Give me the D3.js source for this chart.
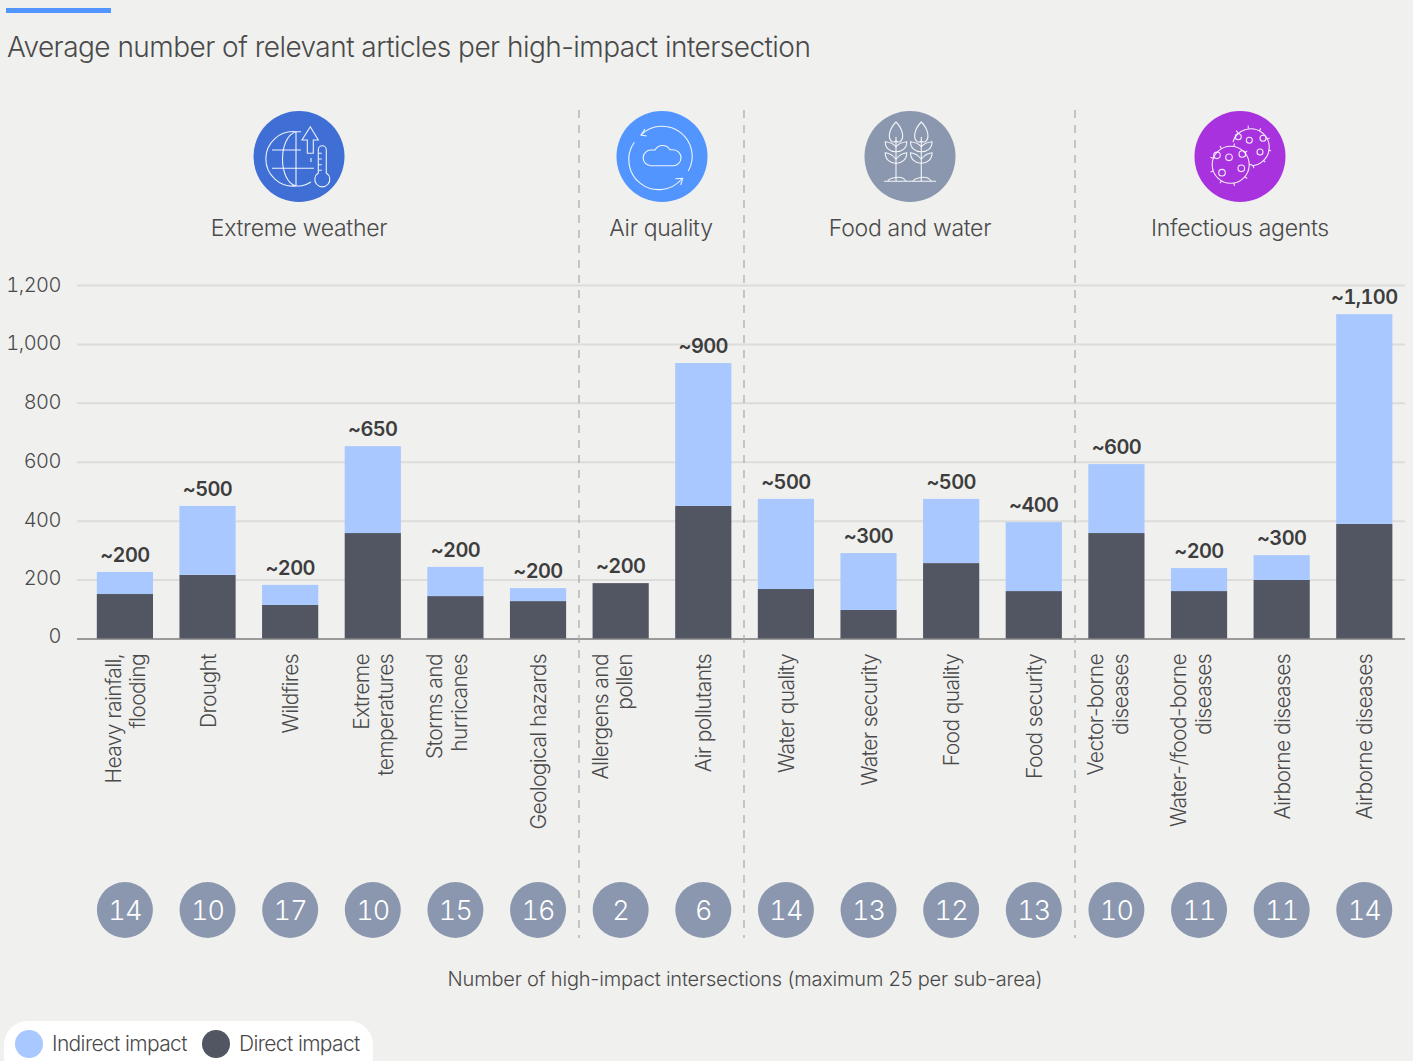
<!DOCTYPE html>
<html>
<head>
<meta charset="utf-8">
<script src="https://cdn.jsdelivr.net/npm/d3@7"></script>
<style>
  html, body { margin: 0; padding: 0; background: #f0f0ef; }
  svg { display: block; }
  text { font-family: "Inter", "Liberation Sans", sans-serif; font-weight: 300; fill: #4a4a4a; letter-spacing: -0.03em; }
  .num { font-variant-numeric: tabular-nums; }
  .icon * { fill: none; stroke: #fff; stroke-width: 1.1; stroke-opacity: .9; }
</style>
</head>
<body>
<svg id="chart" width="1413" height="1061"></svg>
<script>
// Categories and values
const subAreas = [
  ["Heavy rainfall,", "flooding"], ["Drought"], ["Wildfires"], ["Extreme", "temperatures"],
  ["Storms and", "hurricanes"], ["Geological hazards"], ["Allergens and", "pollen"], ["Air pollutants"],
  ["Water quality"], ["Water security"], ["Food quality"], ["Food security"],
  ["Vector-borne", "diseases"], ["Water-/food-borne", "diseases"], ["Airborne diseases"], ["Airborne diseases"]
];
const directImpact   = [151, 216, 114, 358, 144, 127, 188, 450, 168, 97, 256, 161, 358, 161, 199, 389];
const indirectImpact = [75, 234, 68, 295, 99, 44, 0, 485, 306, 193, 218, 234, 234, 78, 84, 712];
const totalLabels = ["~200", "~500", "~200", "~650", "~200", "~200", "~200", "~900",
                     "~500", "~300", "~500", "~400", "~600", "~200", "~300", "~1,100"];
const intersections = [14, 10, 17, 10, 15, 16, 2, 6, 14, 13, 12, 13, 10, 11, 11, 14];
const yTicks = [0, 200, 400, 600, 800, 1000, 1200];
const groups = [
  { name: "Extreme weather", labelX: 299, iconX: 299, color: "#3f6fd4", icon: "weather" },
  { name: "Air quality", labelX: 661, iconX: 662, color: "#5295ff", icon: "air" },
  { name: "Food and water", labelX: 910, iconX: 910, color: "#8a97ae", icon: "food" },
  { name: "Infectious agents", labelX: 1240, iconX: 1240, color: "#a832dd", icon: "germs" }
];
const dividerX = [579, 744, 1075];
// Two-line labels that sit further left of their bar
const leftSetLabels = new Set([4, 6, 12, 13]);

const COLOR_DIRECT = "#525662", COLOR_INDIRECT = "#a9c8ff", COLOR_BADGE = "#8a97ae";

const svg = d3.select("#chart");
const x = d3.scaleBand().domain(d3.range(subAreas.length)).range([83.6, 1405.6])
  .paddingInner(0.32).paddingOuter(0.16);
const y = d3.scaleLinear().domain([0, 1200]).range([638.5, 285]);

// Accent rule and heading
svg.append("rect").attr("x", 6).attr("y", 8).attr("width", 105).attr("height", 5).attr("fill", "#5295ff");
svg.append("text").attr("x", 7).attr("y", 57).attr("font-size", 28).style("letter-spacing", "-0.53px")
  .text("Average number of relevant articles per high-impact intersection");

// Gridlines and value axis
const axis = svg.append("g").attr("transform", "translate(77,0)")
  .call(d3.axisLeft(y).tickValues(yTicks).tickFormat(d3.format(",")).tickSize(0).tickPadding(16));
axis.select(".domain").remove();
axis.selectAll("text").attr("class", "num").attr("font-size", 20).style("letter-spacing", "-0.5px")
  .attr("dy", d => d === 0 ? "0.2em" : d === 1200 ? "0.32em" : "0.27em");
axis.selectAll(".tick").append("line").attr("x1", 0).attr("x2", 1328)
  .attr("stroke", d => d === 0 ? "#9a9a9a" : "#dcdcda").attr("stroke-width", 2);

// Dashed dividers between the groups
svg.append("g").selectAll("line").data(dividerX).join("line")
  .attr("x1", d => d).attr("x2", d => d).attr("y1", 110).attr("y2", 938)
  .attr("stroke", "#a8a8a8").attr("stroke-width", 1.2).attr("stroke-dasharray", "8 7");

// Stacked bars
const bars = svg.append("g");
bars.selectAll(".direct").data(directImpact).join("rect").attr("class", "direct")
  .attr("x", (d, i) => x(i)).attr("width", x.bandwidth())
  .attr("y", d => y(d)).attr("height", d => y(0) - y(d)).attr("fill", COLOR_DIRECT);
bars.selectAll(".indirect").data(indirectImpact).join("rect").attr("class", "indirect")
  .attr("x", (d, i) => x(i)).attr("width", x.bandwidth())
  .attr("y", (d, i) => y(d + directImpact[i])).attr("height", d => y(0) - y(d)).attr("fill", COLOR_INDIRECT);

// Approximate totals above each bar
svg.append("g").selectAll("text").data(totalLabels).join("text").attr("class", "num")
  .attr("x", (d, i) => x(i) + x.bandwidth() / 2)
  .attr("y", (d, i) => y(directImpact[i] + indirectImpact[i]) - 10)
  .attr("text-anchor", "middle").attr("font-size", 20)
  .style("font-weight", 600).style("fill", "#3d3d3d").text(d => d);

// Rotated category labels, right-aligned towards the axis
const catGroups = svg.append("g").selectAll("g").data(subAreas).join("g")
  .attr("transform", (d, i) => `translate(${x(i) + x.bandwidth() / 2 - (leftSetLabels.has(i) ? 9 : 0)},654)`);
catGroups.selectAll("text").data(d => d.map((t, k) => ({ t, k, n: d.length }))).join("text")
  .attr("transform", d => `translate(${d.n === 1 ? 8 : (d.k === 0 ? -4 : 20.5)},0) rotate(-90)`)
  .attr("text-anchor", "end").attr("font-size", 21).text(d => d.t);

// Intersection-count badges
const badges = svg.append("g").selectAll("g").data(intersections).join("g")
  .attr("transform", (d, i) => `translate(${x(i) + x.bandwidth() / 2},910)`);
badges.append("circle").attr("r", 28).attr("fill", COLOR_BADGE);
badges.append("text").attr("class", "num").attr("text-anchor", "middle").attr("y", 10).attr("font-size", 27)
  .style("fill", "#fff").text(d => d);
svg.append("text").attr("x", 745).attr("y", 986).attr("text-anchor", "middle").attr("font-size", 20)
  .style("letter-spacing", "-0.2px")
  .text("Number of high-impact intersections (maximum 25 per sub-area)");

// Group headers with pictograms
const iconDrawers = {
  weather(g) {
    g.append("path").attr("d", "M2,-25.3 H-3 A27.3,27.3 0 1 0 -3,29 M-3,-25.3 C-21,-20 -21,24 -3,29 M-3,-25.3 V29 H2 A27.3,27.3 0 0 0 12,25");
    g.append("path").attr("d", "M-27,-7 H2 M-27,11.3 H15 M12,5 V1");
    g.append("path").attr("d", "M11.3,-30.3 L3,-17 H8.3 V-3.7 H14.3 V-17 H19.3 Z");
    g.append("path").attr("d", "M19.3,16 V-7.3 a4,4 0 0 1 8,0 V16 a7.5,7.5 0 1 1 -8,0 Z M19.3,-3.7 h3.5 M19.3,2 h3.5 M19.3,7.7 h3.5 M19.3,13.3 h3.5");
  },
  air(g) {
    g.append("path").attr("d", "M26.3,14 A30,30 0 0 0 -21,-22 M-27.7,-14.7 A30,30 0 0 0 19.7,22");
    g.append("path").attr("d", "M-17,-28 L-21,-22 L-15.3,-21 M13.3,21.7 L20.7,21.3 L18.7,28");
    g.append("path").attr("d", "M-11,8.7 H11 A8,8 0 0 0 11,-7.3 L8,-7.3 A8.7,8.7 0 0 0 -7,-7 L-11,-7 A7.8,7.8 0 0 0 -11,8.7 Z");
  },
  food(g) {
    g.append("path").attr("d", "M-26,24.3 H26");
    [-14, 11.3].forEach(c => {
      const p = g.append("g").attr("transform", `translate(${c},0)`);
      p.append("path").attr("d", "M0,24.3 V-20");
      p.append("path").attr("d", "M0,-35 C-8,-27 -8,-18 -4,-15.3 C-2,-14.5 -1,-15 0,-16 C1,-15 2,-14.5 4,-15.3 C8,-18 8,-27 0,-35 Z");
      p.append("path").attr("d", "M0,-10.3 C-3,-14 -8,-15 -10.7,-15.3 C-11,-9 -6,-5 0,-5.3 C6,-5 11,-9 10.7,-15.3 C8,-15 3,-14 0,-10.3");
      p.append("path").attr("d", "M0,2.3 C-3,-2 -8,-4 -10.7,-4.3 C-11,2 -6,6.5 0,6.3 C6,6.5 11,2 10.7,-4.3 C8,-4 3,-2 0,2.3");
      p.append("path").attr("d", "M-8.3,24.3 C-6,20.5 -3,21 0,20.5 C4,19.8 8,21 10,24.3");
    });
  },
  germs(g) {
    // rear organism stops where the front one overlaps it
    g.append("path").attr("d", "M-7,-15 A18.5,18.5 0 1 1 11.7,8.7");
    g.append("circle").attr("cx", -9.3).attr("cy", 7.7).attr("r", 18.5);
    [[-23, -1.7], [-11, 0.3], [2.3, -3], [-18, 15.7], [1.3, 11.3]].forEach(c =>
      g.append("circle").attr("cx", c[0]).attr("cy", c[1]).attr("r", 3.3));
    [[9.3, -16.7], [23, -18.7], [20, -5], [-1.7, -20.3]].forEach(c =>
      g.append("circle").attr("cx", c[0]).attr("cy", c[1]).attr("r", 3));
    d3.range(0, 360, 40).forEach(a => {
      const r = a * Math.PI / 180;
      g.append("line").attr("x1", -9.3 + 18.5 * Math.cos(r)).attr("y1", 7.7 + 18.5 * Math.sin(r))
        .attr("x2", -9.3 + 21.5 * Math.cos(r)).attr("y2", 7.7 + 21.5 * Math.sin(r));
    });
    d3.range(-130, 100, 35).forEach(a => {
      const r = a * Math.PI / 180;
      g.append("line").attr("x1", 10 + 18.5 * Math.cos(r)).attr("y1", -10 + 18.5 * Math.sin(r))
        .attr("x2", 10 + 21.5 * Math.cos(r)).attr("y2", -10 + 21.5 * Math.sin(r));
    });
  }
};
const heads = svg.append("g").selectAll("g").data(groups).join("g");
heads.append("circle").attr("cx", d => d.iconX).attr("cy", 156.5).attr("r", 45.5).attr("fill", d => d.color);
heads.append("text").attr("x", d => d.labelX).attr("y", 236).attr("text-anchor", "middle")
  .attr("font-size", 23).style("letter-spacing", "-0.29px").text(d => d.name);
heads.each(function (d) {
  const g = d3.select(this).append("g").attr("class", "icon").attr("transform", `translate(${d.iconX},157)`);
  iconDrawers[d.icon](g);
});

// Legend pill
const legendItems = [
  { label: "Indirect impact", color: COLOR_INDIRECT, cx: 29, tx: 52 },
  { label: "Direct impact", color: COLOR_DIRECT, cx: 216, tx: 239 }
];
svg.append("rect").attr("x", 4).attr("y", 1021).attr("width", 369).attr("height", 60).attr("rx", 24).attr("fill", "#fff");
const leg = svg.append("g").selectAll("g").data(legendItems).join("g");
leg.append("circle").attr("cx", d => d.cx).attr("cy", 1044).attr("r", 14).attr("fill", d => d.color);
leg.append("text").attr("x", d => d.tx).attr("y", 1051).attr("font-size", 21).text(d => d.label);
</script>
</body>
</html>
